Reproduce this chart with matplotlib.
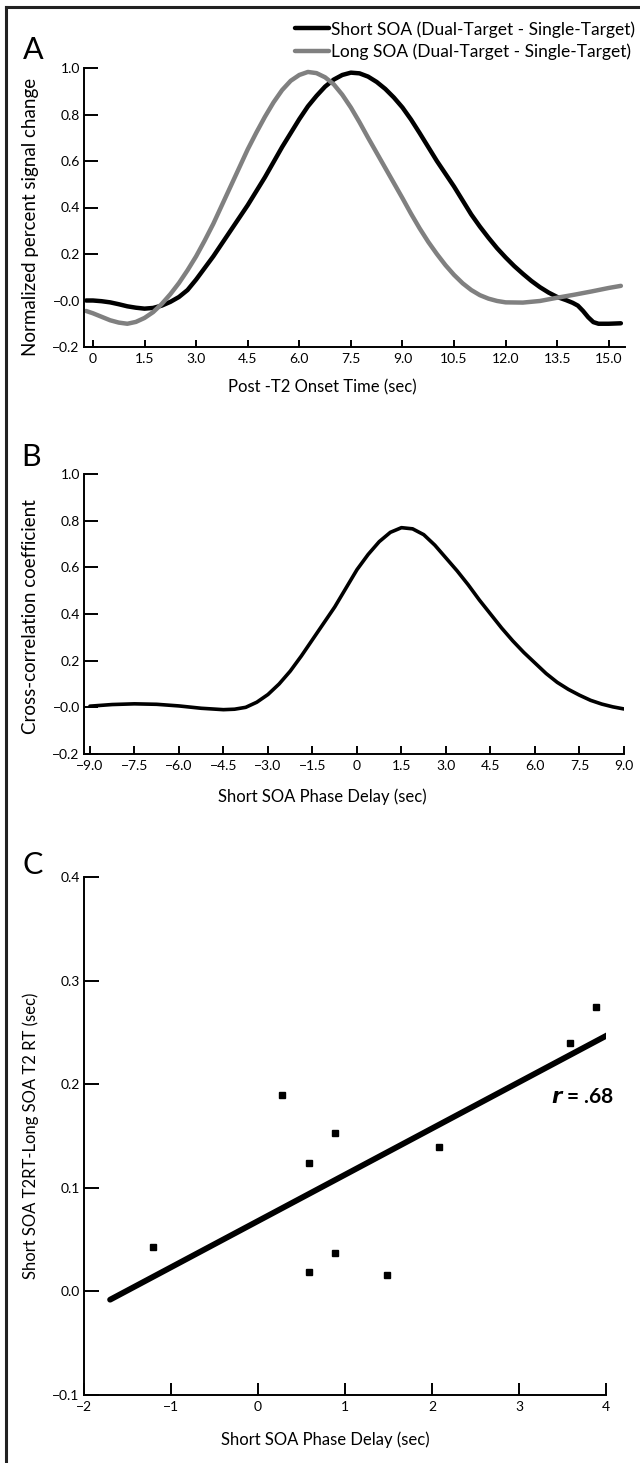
import matplotlib
matplotlib.use("Agg")
import matplotlib.pyplot as plt
from matplotlib.lines import Line2D
import numpy as np

plt.rcParams['font.family'] = ['Lato', 'DejaVu Sans']
plt.rcParams['axes.unicode_minus'] = True

# ---------------- Data ----------------
# Panel A: normalized percent signal change vs post-T2 onset time
time_short = [-0.2, 0.0, 0.25, 0.5, 0.75, 1.0, 1.25, 1.5, 1.75, 2.0, 2.25, 2.5, 2.75, 3.0,
              3.25, 3.5, 3.75, 4.0, 4.25, 4.5, 4.75, 5.0, 5.25, 5.5, 5.75, 6.0, 6.25, 6.5,
              6.75, 7.0, 7.25, 7.5, 7.75, 8.0, 8.25, 8.5, 8.75, 9.0, 9.25, 9.5, 9.75, 10.0,
              10.25, 10.5, 10.75, 11.0, 11.25, 11.5, 11.75, 12.0, 12.25, 12.5, 12.75, 13.0,
              13.25, 13.5, 13.75, 13.95, 14.1, 14.25, 14.4, 14.55, 14.7, 15.0, 15.35]
short_soa = [0.0, 0.0, -0.003, -0.008, -0.016, -0.025, -0.031, -0.035, -0.032, -0.022,
             -0.006, 0.015, 0.045, 0.09, 0.14, 0.19, 0.245, 0.30, 0.355, 0.41, 0.47, 0.53,
             0.595, 0.66, 0.72, 0.78, 0.835, 0.88, 0.92, 0.95, 0.97, 0.98, 0.977, 0.963,
             0.94, 0.91, 0.873, 0.83, 0.778, 0.72, 0.66, 0.60, 0.545, 0.49, 0.43, 0.37,
             0.318, 0.27, 0.225, 0.185, 0.148, 0.115, 0.084, 0.057, 0.034, 0.015, 0.002,
             -0.01, -0.022, -0.045, -0.072, -0.093, -0.1, -0.1, -0.098]
time_long = [-0.2, 0.0, 0.25, 0.5, 0.75, 1.0, 1.25, 1.5, 1.75, 2.0, 2.25, 2.5, 2.75, 3.0,
             3.25, 3.5, 3.75, 4.0, 4.25, 4.5, 4.75, 5.0, 5.25, 5.5, 5.75, 6.0, 6.25, 6.5,
             6.75, 7.0, 7.25, 7.5, 7.75, 8.0, 8.25, 8.5, 8.75, 9.0, 9.25, 9.5, 9.75, 10.0,
             10.25, 10.5, 10.75, 11.0, 11.25, 11.5, 11.75, 12.0, 12.5, 13.0, 13.5, 14.0,
             14.5, 15.0, 15.35]
long_soa = [-0.045, -0.055, -0.07, -0.085, -0.095, -0.1, -0.092, -0.075, -0.05, -0.015,
            0.027, 0.075, 0.13, 0.19, 0.258, 0.33, 0.41, 0.49, 0.57, 0.65, 0.722, 0.79,
            0.852, 0.905, 0.945, 0.97, 0.983, 0.978, 0.96, 0.93, 0.885, 0.83, 0.767, 0.70,
            0.635, 0.57, 0.505, 0.44, 0.373, 0.31, 0.252, 0.20, 0.152, 0.11, 0.074, 0.045,
            0.023, 0.008, -0.002, -0.008, -0.009, -0.002, 0.012, 0.025, 0.039, 0.054, 0.063]
legend_labels = ["Short SOA (Dual-Target - Single-Target)",
                 "Long SOA (Dual-Target - Single-Target)"]
xticks_a = [0, 1.5, 3.0, 4.5, 6.0, 7.5, 9.0, 10.5, 12.0, 13.5, 15.0]
xticklabels_a = ["0", "1.5", "3.0", "4.5", "6.0", "7.5", "9.0", "10.5", "12.0", "13.5", "15.0"]
yticks_ab = [-0.2, 0.0, 0.2, 0.4, 0.6, 0.8, 1.0]
yticklabels_ab = ["\u22120.2", "\u22120.0", "0.2", "0.4", "0.6", "0.8", "1.0"]

# Panel B: cross-correlation vs phase delay
lag_b = [-9.0, -8.25, -7.5, -6.75, -6.0, -5.25, -4.5, -4.125, -3.75, -3.375, -3.0, -2.625,
         -2.25, -1.875, -1.5, -1.125, -0.75, -0.375, 0.0, 0.375, 0.75, 1.125, 1.5, 1.875,
         2.25, 2.625, 3.0, 3.375, 3.75, 4.125, 4.5, 4.875, 5.25, 5.625, 6.0, 6.375, 6.75,
         7.125, 7.5, 7.875, 8.25, 8.625, 9.0]
xcorr_b = [0.005, 0.012, 0.015, 0.013, 0.006, -0.004, -0.01, -0.008, 0.0, 0.022, 0.055, 0.1,
           0.155, 0.22, 0.29, 0.36, 0.43, 0.51, 0.59, 0.655, 0.71, 0.75, 0.77, 0.765, 0.74,
           0.695, 0.64, 0.585, 0.525, 0.46, 0.40, 0.34, 0.285, 0.235, 0.19, 0.145, 0.107,
           0.077, 0.052, 0.03, 0.014, 0.002, -0.007]
xticks_b = [-9.0, -7.5, -6.0, -4.5, -3.0, -1.5, 0, 1.5, 3.0, 4.5, 6.0, 7.5, 9.0]
xticklabels_b = ["\u22129.0", "\u22127.5", "\u22126.0", "\u22124.5", "\u22123.0", "\u22121.5",
                 "0", "1.5", "3.0", "4.5", "6.0", "7.5", "9.0"]

# Panel C: scatter of phase delay vs RT difference
delay_c = [-1.21, 0.28, 0.59, 0.59, 0.886, 0.886, 1.485, 2.08, 3.585, 3.88]
rtdiff_c = [0.043, 0.19, 0.124, 0.019, 0.153, 0.037, 0.016, 0.139, 0.24, 0.275]
fit_x = [-1.7, 4.12]
fit_y = [-0.008, 0.252]
xticks_c = [-2, -1, 0, 1, 2, 3, 4]
xticklabels_c = ["\u22122", "\u22121", "0", "1", "2", "3", "4"]
yticks_c = [-0.1, 0.0, 0.1, 0.2, 0.3, 0.4]
yticklabels_c = ["\u22120.1", "0.0", "0.1", "0.2", "0.3", "0.4"]

# ---------------- Figure ----------------
W, H = 640, 1463
fig = plt.figure(figsize=(W / 100, H / 100), dpi=100)


def fx(px):
    return px / W


def fy(py):
    return 1 - py / H


def style_axes(ax, ylen, xlen):
    for s in ['top', 'right']:
        ax.spines[s].set_visible(False)
    for s in ['left', 'bottom']:
        ax.spines[s].set_linewidth(1.4)
    ax.tick_params(axis='y', direction='in', length=ylen, width=1.4, labelsize=10, pad=3)
    ax.tick_params(axis='x', direction='in', length=xlen, width=1.4, labelsize=10, pad=4)


def place_labels(ax, ylab, yfs, ypos, xlab, xfs, xpos):
    ax.set_ylabel(ylab, fontsize=yfs, va='center')
    ax.yaxis.set_label_coords(fx(ypos[0]), fy(ypos[1]), transform=fig.transFigure)
    ax.set_xlabel(xlab, fontsize=xfs, va='center')
    ax.xaxis.set_label_coords(fx(xpos[0]), fy(xpos[1]), transform=fig.transFigure)


# Panel A
axA = fig.add_axes([fx(84), fy(347), fx(625) - fx(84), fy(68) - fy(347)])
axA.plot(time_short, short_soa, color='black', lw=3.2, solid_capstyle='round',
         solid_joinstyle='round', label=legend_labels[0])
axA.plot(time_long, long_soa, color='#808080', lw=3.2, solid_capstyle='round',
         solid_joinstyle='round', label=legend_labels[1])
axA.set_xlim(-0.26, 15.47)
axA.set_ylim(-0.2, 1.0)
axA.set_xticks(xticks_a)
axA.set_xticklabels(xticklabels_a)
axA.set_yticks(yticks_ab)
axA.set_yticklabels(yticklabels_ab)
style_axes(axA, 10, 5)
place_labels(axA, "Normalized percent signal change", 13.5, (31, 217),
             "Post -T2 Onset Time (sec)", 12, (322, 387))
leg = axA.legend(loc='upper right', bbox_to_anchor=(fx(635), fy(21)),
                 bbox_transform=fig.transFigure, frameon=False, fontsize=12.5,
                 handlelength=2.0, handletextpad=0.1, labelspacing=0.35, borderpad=0,
                 borderaxespad=0)
for line in leg.get_lines():
    line.set_linewidth(3.2)
fig.text(fx(33), fy(50), "A", fontsize=22, ha='center', va='center')

# Panel B
axB = fig.add_axes([fx(84), fy(754), fx(624) - fx(84), fy(474) - fy(754)])
axB.plot(lag_b, xcorr_b, color='black', lw=2.6, solid_capstyle='round',
         solid_joinstyle='round')
axB.set_xlim(-9.2, 9.0)
axB.set_ylim(-0.2, 1.0)
axB.set_xticks(xticks_b)
axB.set_xticklabels(xticklabels_b)
axB.set_yticks(yticks_ab)
axB.set_yticklabels(yticklabels_ab)
style_axes(axB, 10, 5.5)
place_labels(axB, "Cross-correlation coefficient", 13.5, (31, 617),
             "Short SOA Phase Delay (sec)", 12, (322, 797))
fig.text(fx(31), fy(457), "B", fontsize=22, ha='center', va='center')

# Panel C
axC = fig.add_axes([fx(84), fy(1395), fx(606) - fx(84), fy(877) - fy(1395)])
axC.plot(delay_c, rtdiff_c, linestyle='none', marker='s', color='black', markersize=5)
axC.plot(fit_x, fit_y, color='black', lw=4.2, solid_capstyle='round')
axC.set_xlim(-2, 4)
axC.set_ylim(-0.1, 0.4)
axC.set_xticks(xticks_c)
axC.set_xticklabels(xticklabels_c)
axC.set_yticks(yticks_c)
axC.set_yticklabels(yticklabels_c)
style_axes(axC, 11, 8.5)
place_labels(axC, "Short SOA T2RT-Long SOA T2 RT (sec)", 12, (31, 1136),
             "Short SOA Phase Delay (sec)", 12, (325, 1440))
axC.text(3.37, 0.1875, r"$\boldsymbol{r}$ = .68", fontsize=15, fontweight='bold',
         ha='left', va='center', clip_on=False)
fig.text(fx(33), fy(865), "C", fontsize=22, ha='center', va='center')

# Outer frame (left and top edges visible)
fig.add_artist(Line2D([fx(6), fx(6)], [0, fy(7)], transform=fig.transFigure,
                      color='#222222', lw=2.2))
fig.add_artist(Line2D([fx(6), 1], [fy(7), fy(7)], transform=fig.transFigure,
                      color='#222222', lw=2.2))

fig.savefig("out.png", dpi=100)
